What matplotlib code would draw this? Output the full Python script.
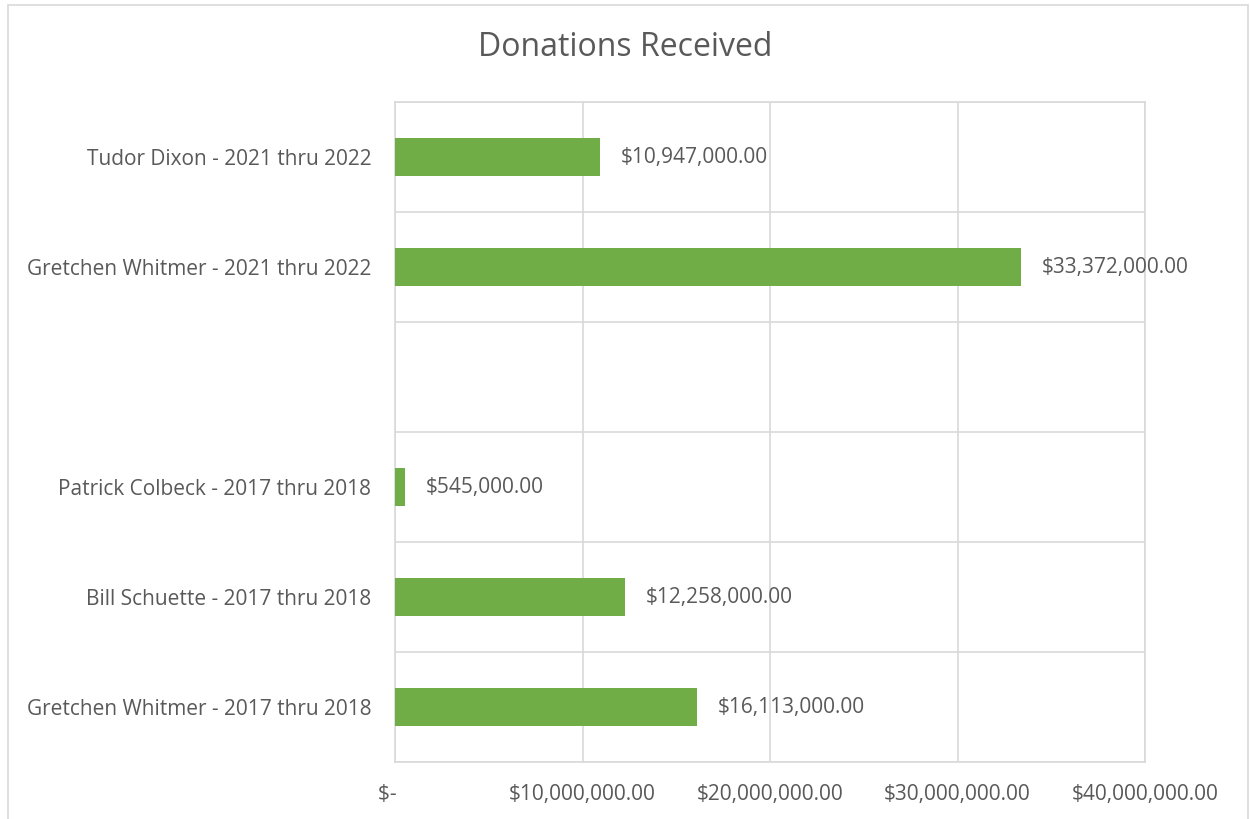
import numpy as np
import matplotlib.pyplot as plt
from matplotlib.patches import Rectangle

plt.rcParams['font.family'] = ['Open Sans', 'DejaVu Sans']

# categories from bottom to top, one empty slot between the two election cycles
categories = ["Gretchen Whitmer - 2017 thru 2018",
              "Bill Schuette - 2017 thru 2018",
              "Patrick Colbeck - 2017 thru 2018",
              "",
              "Gretchen Whitmer - 2021 thru 2022",
              "Tudor Dixon - 2021 thru 2022"]
donations = [16113000, 12258000, 545000, np.nan, 33372000, 10947000]
x_ticks = [0, 10000000, 20000000, 30000000, 40000000]
x_tick_labels = ["$-   ", "$10,000,000.00", "$20,000,000.00", "$30,000,000.00", "$40,000,000.00"]

text_col = '#595959'
grid_col = '#d9d9d9'
bar_col = '#70ad47'

fig = plt.figure(figsize=(12.5, 8.19), dpi=100)
ax = fig.add_axes([395/1250, 1 - 762/819, 750/1250, 660/819])

y = np.arange(len(categories))
vals = np.array(donations, dtype=float)
mask = ~np.isnan(vals)
ax.barh(y[mask], vals[mask], height=0.345, color=bar_col, zorder=3)

for yi, v in zip(y[mask], vals[mask]):
    ax.annotate("${:,.2f}".format(v), xy=(v, yi), xytext=(15, 0), textcoords='offset points',
                ha='left', va='center', fontsize=15, color=text_col)

ax.set_xlim(0, 40000000)
ax.set_ylim(-0.5, len(categories) - 0.5)
ax.set_xticks(x_ticks)
ax.set_xticklabels(x_tick_labels)
ax.set_yticks(y)
ax.set_yticklabels(categories)
ax.set_yticks(np.arange(-0.5, len(categories), 1), minor=True)

ax.grid(axis='x', which='major', color=grid_col, linewidth=1.2, zorder=0)
ax.grid(axis='y', which='minor', color=grid_col, linewidth=1.2, zorder=0)
ax.tick_params(axis='both', which='both', length=0, labelsize=15, labelcolor=text_col)
ax.tick_params(axis='x', pad=16)
ax.tick_params(axis='y', pad=17)
for s in ax.spines.values():
    s.set_color(grid_col)
    s.set_linewidth(1.2)

fig.text(0.5, 1 - 48/819, "Donations Received", ha='center', va='center',
         fontsize=23, color=text_col)

# outer chart frame (cut off at the bottom of the image)
fig.patches.append(Rectangle((8/1250, -0.05), 1240/1250, 1.05 - 5/819, transform=fig.transFigure,
                             fill=False, edgecolor=grid_col, linewidth=1.2))

fig.savefig('out.png', dpi=100)
